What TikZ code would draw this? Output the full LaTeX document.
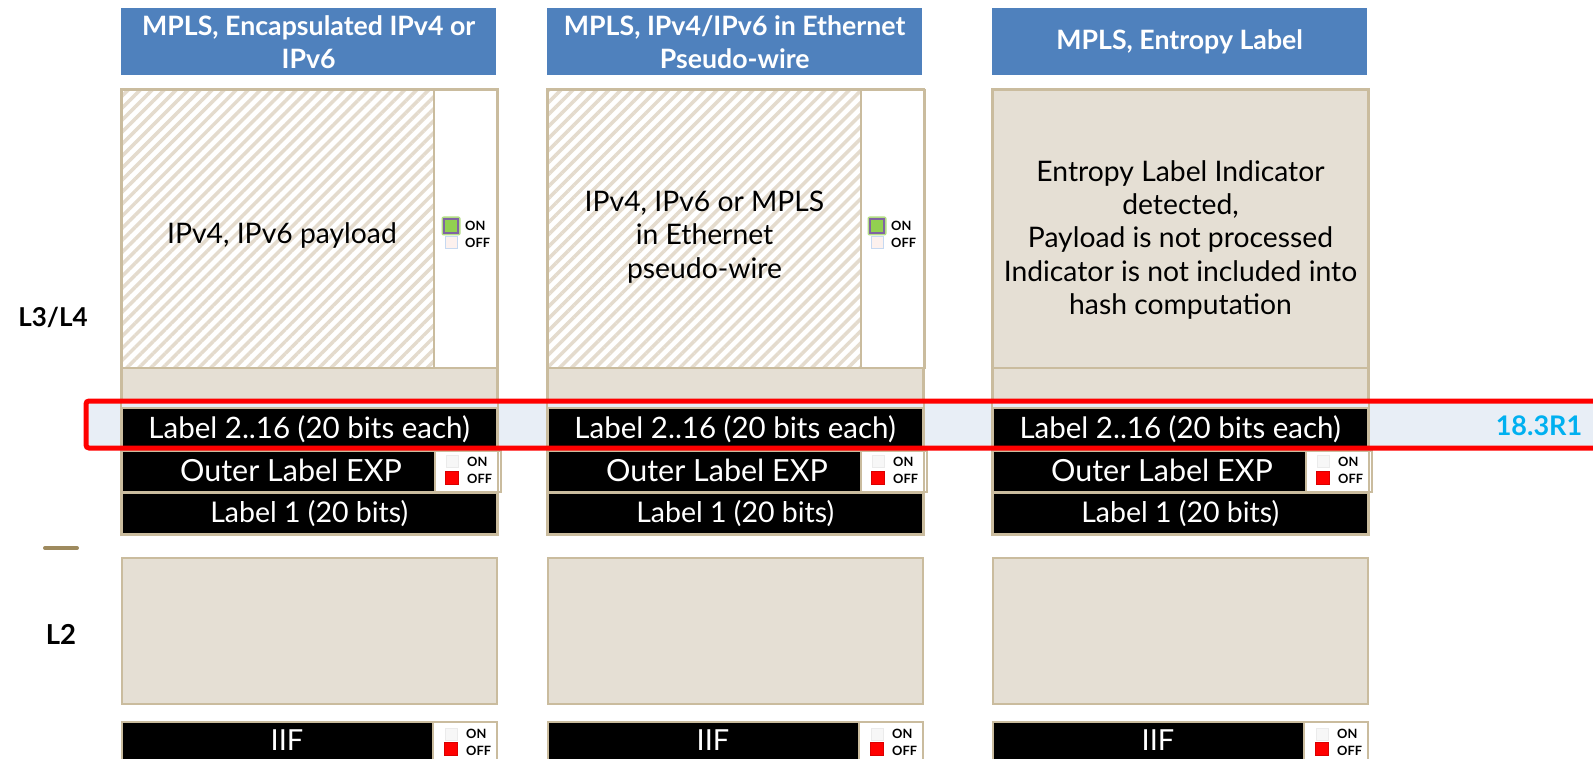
\documentclass[tikz,border=0pt]{standalone}
\usepackage{fontspec}
\setmainfont{Lato}
\usetikzlibrary{patterns.meta}

\definecolor{hdrblue}{HTML}{4F81BD}
\definecolor{tanfill}{HTML}{E5DFD4}
\definecolor{tanline}{HTML}{CABC9E}
\definecolor{hatchtan}{HTML}{E4DBCD}
\definecolor{bandblue}{HTML}{E8EEF6}
\definecolor{checkgreen}{HTML}{92D050}
\definecolor{checkpurple}{HTML}{8064A2}
\definecolor{offpink}{HTML}{FCF1EE}
\definecolor{offblue}{HTML}{C6D9F1}
\definecolor{relcyan}{HTML}{00B0F0}
\definecolor{dashbrown}{HTML}{9E8A5E}

\newcommand\hdrfont{\bfseries\fontsize{26.7}{33}\selectfont}
\newcommand\bodyfont{\fontsize{28.3}{33.4}\selectfont}
\newcommand\lblfont{\fontsize{29.5}{30}\selectfont}
\newcommand\swfont{\bfseries\fontsize{12.8}{12.8}\selectfont}

\begin{document}
\begin{tikzpicture}[x=1pt,y=-1pt,
  hdr/.style={fill=hdrblue,text=white,font=\hdrfont,align=center,
    minimum width=375pt,minimum height=67pt,anchor=north west,inner sep=0pt},
  blk/.style={fill=black,draw=tanline,line width=1.5pt,text=white,font=\lblfont,
    anchor=north west,inner sep=0pt},
  tanbox/.style={fill=tanfill,draw=tanline,line width=2pt,anchor=north west,inner sep=0pt},
  whitebox/.style={fill=white,draw=tanline,line width=2pt,anchor=north west,inner sep=0pt},
  hatchbox/.style={pattern={Lines[angle=45,distance=8.5pt,line width=3.5pt]},
    pattern color=hatchtan,draw=tanline,line width=2pt,anchor=north west,inner sep=0pt},
  swtext/.style={font=\swfont,anchor=west,inner sep=0pt},
  chkon/.style={fill=checkgreen,draw=checkpurple,line width=1.6pt,minimum size=14pt,inner sep=0pt},
  chkglow/.style={fill=checkgreen!70,minimum size=19pt,inner sep=0pt,rounded corners=2pt},
  chkoffpale/.style={fill=offpink,draw=offblue,line width=1pt,minimum size=12pt,inner sep=0pt},
  swoff/.style={fill=white!97!black,draw=white!92!black,line width=0.8pt,minimum size=12pt,inner sep=0pt},
  swred/.style={fill=red,draw=red!85!black,line width=0.6pt,minimum size=13pt,inner sep=0pt},
  side/.style={font=\bfseries\fontsize{26}{26}\selectfont,inner sep=0pt}
]
\clip (0,0) rectangle (1593,759);
\fill[white] (0,0) rectangle (1593,759);

% ---- column headers ----
\node[hdr] (a-hdr) at (121,8) {MPLS, Encapsulated IPv4 or\\IPv6};
\node[hdr] (b-hdr) at (547,8) {MPLS, IPv4/IPv6 in Ethernet\\Pseudo-wire};
\node[hdr] (c-hdr) at (992,8) {MPLS, Entropy Label};

% ---- payload areas ----
\node[hatchbox,minimum width=312pt,minimum height=278pt] (a-pay) at (121,89) {};
\node[whitebox,minimum width=63pt,minimum height=278pt] (a-sw) at (433,89) {};
\node[font=\bodyfont] at ([xshift=4pt,yshift=-7pt]a-pay.center) {IPv4, IPv6 payload};

\node[hatchbox,minimum width=313pt,minimum height=278pt] (b-pay) at (547,89) {};
\node[whitebox,minimum width=64pt,minimum height=278pt] (b-sw) at (860,89) {};
\node[font=\bodyfont,align=center] at ([yshift=-8pt]b-pay.center) {IPv4, IPv6 or MPLS\\in Ethernet\\pseudo-wire};

\node[tanbox,minimum width=375pt,minimum height=278pt] (c-pay) at (992,89) {};
\node[font=\bodyfont,align=center] at ([yshift=-11pt]c-pay.center)
  {Entropy Label Indicator\\detected,\\Payload is not processed\\Indicator is not included into\\hash computation};

% ON/OFF selectors in the payload areas
\foreach \c/\X in {a/121,b/547}{
  \node[chkglow] at (\X+330,226) {};
  \node[chkon] (\c-on) at (\X+330,226) {};
  \node[chkoffpale] (\c-off) at (\X+330,243) {};
  \node[swtext] at (\X+344,226) {ON};
  \node[swtext] at (\X+344,243) {OFF};
}

% ---- tan band, L2 area, IIF row ----
\foreach \c/\X in {a/121,b/547,c/992}{
  \node[tanbox,minimum width=375pt,minimum height=40pt] (\c-gap) at (\X,367) {};
  \node[tanbox,minimum width=375pt,minimum height=146pt] (\c-l2) at (\X,557) {};
  \node[blk,minimum width=311pt,minimum height=50pt,text depth=0pt] (\c-iif) at (\X,721) {};
  \node[font=\fontsize{29}{29}\selectfont,text=white] at (\X+166,740) {IIF};
  \node[whitebox,minimum width=64pt,minimum height=50pt] (\c-iifsw) at (\X+311,721) {};
  \node[swoff] at (\X+330,734) {};
  \node[swred] at (\X+330,749) {};
  \node[swtext] at (\X+345,734) {ON};
  \node[swtext] at (\X+345,751) {OFF};
}

% ---- highlighted label row ----
\fill[bandblue] (86,401) rectangle (1593,448);

\foreach \c/\X in {a/121,b/547,c/992}{
  \node[blk,minimum width=375pt,minimum height=42pt] (\c-lbl) at (\X,407) {Label 2..16 (20 bits each)};
  \node[blk,minimum width=313pt,minimum height=41pt] (\c-exp) at (\X,450) {};
  \node[font=\fontsize{30.5}{30}\selectfont,text=white] at (\X+170,470) {Outer Label EXP};
  \node[whitebox,minimum width=66pt,minimum height=41pt] (\c-expsw) at (\X+313,450) {};
  \node[swoff] at (\X+331,461) {};
  \node[swred] at (\X+331,478) {};
  \node[swtext] at (\X+346,462) {ON};
  \node[swtext] at (\X+346,479) {OFF};
  \node[blk,minimum width=375pt,minimum height=41pt,font=\fontsize{28.5}{30}\selectfont] (\c-lbl1) at (\X,492) {Label 1 (20 bits)};
  \draw[tanline,line width=2pt] (\c-pay.north west) rectangle (\c-lbl1.south east);
}

\draw[red,line width=5pt,rounded corners=3pt] (86,401) rectangle (1620,448);
\node[font=\bfseries\fontsize{27}{27}\selectfont,text=relcyan] (rel) at (1539,426) {18.3R1};

% ---- layer labels ----
\node[side] (l34) at (53,317) {L3/L4};
\node[side,font=\bfseries\fontsize{27.5}{27.5}\selectfont] (l2) at (61,634) {L2};
\draw[dashbrown,line width=4pt,line cap=round] (45,548) -- (77,548);
\end{tikzpicture}
\end{document}
